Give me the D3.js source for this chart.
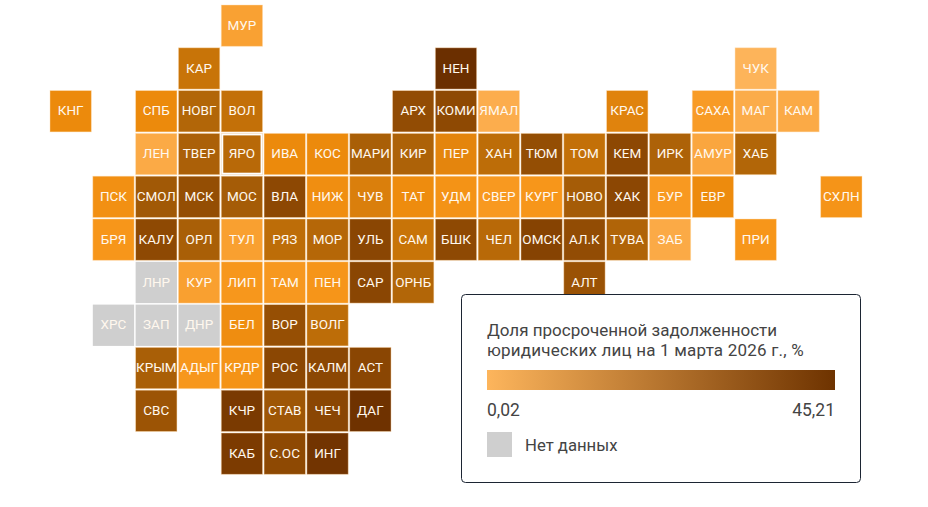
<!DOCTYPE html>
<html>
<head>
<meta charset="utf-8">
<style>
  html, body { margin: 0; padding: 0; background: #fff; }
  svg { display: block; font-family: Roboto, sans-serif; }
</style>
<script src="https://cdn.jsdelivr.net/npm/d3@7"></script>
</head>
<body>
<svg id="chart" width="928" height="507"></svg>
<script>
// tile grid: one array per row, null is an empty cell
var tileRows = [
  [null, null, null, null, 'МУР'],
  [null, null, null, 'КАР', null, null, null, null, null, 'НЕН', null, null, null, null, null, null, 'ЧУК'],
  ['КНГ', null, 'СПБ', 'НОВГ', 'ВОЛ', null, null, null, 'АРХ', 'КОМИ', 'ЯМАЛ', null, null, 'КРАС', null, 'САХА', 'МАГ', 'КАМ'],
  [null, null, 'ЛЕН', 'ТВЕР', 'ЯРО', 'ИВА', 'КОС', 'МАРИ', 'КИР', 'ПЕР', 'ХАН', 'ТЮМ', 'ТОМ', 'КЕМ', 'ИРК', 'АМУР', 'ХАБ'],
  [null, 'ПСК', 'СМОЛ', 'МСК', 'МОС', 'ВЛА', 'НИЖ', 'ЧУВ', 'ТАТ', 'УДМ', 'СВЕР', 'КУРГ', 'НОВО', 'ХАК', 'БУР', 'ЕВР', null, null, 'СХЛН'],
  [null, 'БРЯ', 'КАЛУ', 'ОРЛ', 'ТУЛ', 'РЯЗ', 'МОР', 'УЛЬ', 'САМ', 'БШК', 'ЧЕЛ', 'ОМСК', 'АЛ.К', 'ТУВА', 'ЗАБ', null, 'ПРИ'],
  [null, null, 'ЛНР', 'КУР', 'ЛИП', 'ТАМ', 'ПЕН', 'САР', 'ОРНБ', null, null, null, 'АЛТ'],
  [null, 'ХРС', 'ЗАП', 'ДНР', 'БЕЛ', 'ВОР', 'ВОЛГ'],
  [null, null, 'КРЫМ', 'АДЫГ', 'КРДР', 'РОС', 'КАЛМ', 'АСТ'],
  [null, null, 'СВС', null, 'КЧР', 'СТАВ', 'ЧЕЧ', 'ДАГ'],
  [null, null, null, null, 'КАБ', 'С.ОС', 'ИНГ']
];

// overdue share per region, in the same order as the names above (estimated from colour)
var tileValues = [
  [3],
  [15, 45.21, 0.02],
  [8, 8, 19, 16, 27, 28, 1, 11, 4, 1.2, 1.5],
  [1.5, 20.5, 18, 8, 8, 21, 20, 10, 17, 26.5, 16, 28.5, 20, 2, 19],
  [6.5, 23, 26.5, 22, 28.5, 7, 12, 7.5, 5.8, 4.5, 5, 22, 29, 4.4, 7.8, 5.5],
  [5, 28, 21, 3.2, 17, 18.5, 30, 15, 28, 18, 32, 27, 19.5, 1.5, 5],
  [null, 3.2, 4.8, 4.6, 5.2, 30, 19, 25],
  [null, null, null, 7.2, 26, 17],
  [21, 4.8, 5.8, 29.5, 29.5, 30],
  [24.5, 38, 24, 30, 43],
  [37, 28, 42]
];

var highlighted = 'ЯРО';

var colorStops = [0.02, 2, 5, 8, 11, 15, 20, 28, 45.21];
var colorRange = ['#fdb45a', '#faa63f', '#f7961a', '#ec8a0c', '#e0830d', '#c87408', '#ad6208', '#8e4903', '#6b2f00'];
var noDataColor = '#cfcfcf';

var legendTitle = ['Доля просроченной задолженности', 'юридических лиц на 1 марта 2026 г., %'];
var legendMin = '0,02';
var legendMax = '45,21';
var legendNoData = 'Нет данных';

var tiles = [];
tileRows.forEach(function (names, row) {
  var k = 0;
  names.forEach(function (name, col) {
    if (name) tiles.push({ name: name, col: col, row: row, value: tileValues[row][k++] });
  });
});

var svg = d3.select('#chart');

var x = d3.scaleBand().domain(d3.range(19)).range([50, 862]).paddingInner(0.035);
var y = d3.scaleBand().domain(d3.range(11)).range([5, 474.3]).paddingInner(0.035);
var color = d3.scaleLinear().domain(colorStops).range(colorRange);

var tile = svg.selectAll('g.tile')
  .data(tiles)
  .enter()
  .append('g')
  .attr('class', 'tile')
  .attr('transform', d => `translate(${x(d.col)},${y(d.row)})`);

tile.append('rect')
  .attr('width', x.bandwidth())
  .attr('height', y.bandwidth())
  .attr('fill', d => d.value === null ? noDataColor : color(d.value))
  .attr('stroke', d => d.value === null ? 'none' : '#ffdfb5')
  .attr('stroke-opacity', 0.55)
  .attr('stroke-width', 0.8);

// the selected region gets an inset white ring
tile.filter(d => d.name === highlighted)
  .append('rect')
  .attr('x', 1)
  .attr('y', 1)
  .attr('width', x.bandwidth() - 2)
  .attr('height', y.bandwidth() - 2)
  .attr('fill', 'none')
  .attr('stroke', '#fff')
  .attr('stroke-width', 2);

tile.append('text')
  .attr('x', x.bandwidth() / 2)
  .attr('y', y.bandwidth() / 2 + 4.2)
  .attr('text-anchor', 'middle')
  .attr('fill', '#fff8ee')
  .attr('font-size', 13.5)
  .attr('font-weight', 400)
  .text(d => d.name);

// legend
var defs = svg.append('defs');
var gradient = defs.append('linearGradient').attr('id', 'legend-gradient');
gradient.append('stop').attr('offset', '0%').attr('stop-color', '#fdb55c');
gradient.append('stop').attr('offset', '100%').attr('stop-color', '#6e3300');

var legend = svg.append('g');

legend.append('rect')
  .attr('x', 461.5)
  .attr('y', 294.5)
  .attr('width', 399)
  .attr('height', 188)
  .attr('rx', 4)
  .attr('fill', '#fff')
  .attr('stroke', '#1c2533');

legend.selectAll('text.title')
  .data(legendTitle)
  .enter()
  .append('text')
  .attr('class', 'title')
  .attr('x', 487)
  .attr('y', (d, i) => 336 + i * 20)
  .attr('fill', '#444')
  .attr('font-size', 17)
  .attr('letter-spacing', (d, i) => i ? 0.2 : 0)
  .text(d => d);

legend.append('rect')
  .attr('x', 487)
  .attr('y', 370)
  .attr('width', 348)
  .attr('height', 20)
  .attr('fill', 'url(#legend-gradient)');

legend.append('text')
  .attr('x', 487)
  .attr('y', 416)
  .attr('fill', '#444')
  .attr('font-size', 17.5)
  .text(legendMin);

legend.append('text')
  .attr('x', 835)
  .attr('y', 416)
  .attr('text-anchor', 'end')
  .attr('fill', '#444')
  .attr('font-size', 17.5)
  .text(legendMax);

legend.append('rect')
  .attr('x', 487)
  .attr('y', 432)
  .attr('width', 25)
  .attr('height', 25)
  .attr('fill', noDataColor);

legend.append('text')
  .attr('x', 525)
  .attr('y', 451)
  .attr('fill', '#444')
  .attr('font-size', 16.7)
  .text(legendNoData);
</script>
</body>
</html>
